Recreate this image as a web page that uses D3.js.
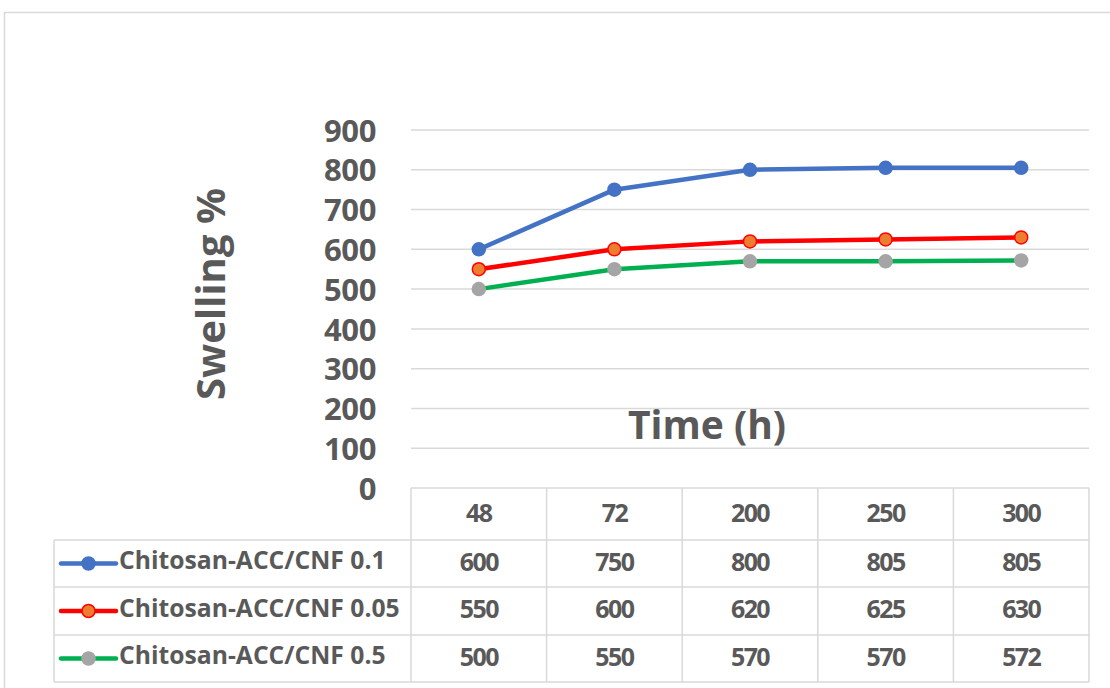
<!DOCTYPE html>
<html><head><meta charset="utf-8">
<script src="https://cdn.jsdelivr.net/npm/d3@7"></script>
<style>body{margin:0;background:#fff;}svg{display:block;}</style>
</head><body>
<svg id="c" width="1110" height="688"></svg>
<script>
const categories = ["48", "72", "200", "250", "300"];
const seriesNames = ["Chitosan-ACC/CNF 0.1", "Chitosan-ACC/CNF 0.05", "Chitosan-ACC/CNF 0.5"];
const s01 = [600, 750, 800, 805, 805];
const s005 = [550, 600, 620, 625, 630];
const s05 = [500, 550, 570, 570, 572];
const yTicks = [0, 100, 200, 300, 400, 500, 600, 700, 800, 900];
const lineColors = ["#4472C4", "#FF0000", "#00B050"];
const markerFill = ["#4472C4", "#ED7D31", "#A5A5A5"];
const markerStroke = ["#4472C4", "#FF0000", "#A5A5A5"];
const seriesVals = [s01, s005, s05];

(function(){
const svg = d3.select("#c");
const font = "'Open Sans', Lato, sans-serif";
const txt = "#595959";
const gridC = "#d9d9d9";

svg.append("rect").attr("x",4.5).attr("y",12.5).attr("width",1200).attr("height",800)
  .attr("fill","none").attr("stroke","#d9d9d9").attr("stroke-width",1.5);

const pL = 411, pR = 1089, pT = 130, pB = 488;
const x = d3.scaleBand().domain(categories).range([pL, pR]);
const y = d3.scaleLinear().domain([0, 900]).range([pB, pT]);

svg.append("g").selectAll("line").data(yTicks.filter(d=>d>0)).join("line")
  .attr("x1", pL).attr("x2", pR)
  .attr("y1", d=>y(d)).attr("y2", d=>y(d))
  .attr("stroke", gridC).attr("stroke-width", 1.5);

const yAxis = d3.axisLeft(y).tickValues(yTicks).tickSize(0).tickPadding(0);
const ga = svg.append("g").attr("transform", `translate(376,0)`).call(yAxis);
ga.select(".domain").remove();
ga.selectAll("text").attr("font-family", font).attr("font-weight", "bold")
  .attr("font-size", 31).attr("fill", txt).attr("dy", "0.36em").attr("letter-spacing", -0.4);

svg.append("text").attr("transform", "translate(225,294) rotate(-90)")
  .attr("text-anchor","middle").attr("font-family",font).attr("font-weight","bold")
  .attr("font-size",40).attr("fill",txt).text("Swelling %");
svg.append("text").attr("x",707).attr("y",439).attr("text-anchor","middle")
  .attr("font-family",font).attr("font-weight","bold").attr("font-size",39)
  .attr("fill",txt).text("Time (h)");

const line = d3.line().x((d,i)=>x(categories[i]) + x.bandwidth()/2).y(d=>y(d));
seriesVals.forEach((vals, k) => {
  svg.append("path").datum(vals).attr("d", line).attr("fill","none")
    .attr("stroke", lineColors[k]).attr("stroke-width", 4.5).attr("stroke-linejoin","round");
  svg.append("g").selectAll("circle").data(vals).join("circle")
    .attr("cx", (d,i)=>x(categories[i]) + x.bandwidth()/2).attr("cy", d=>y(d))
    .attr("r", 6.5).attr("fill", markerFill[k]).attr("stroke", markerStroke[k]).attr("stroke-width", 1.5);
});

const rowY = [488, 540, 587, 635, 682];
const tableLeft = 54;
const tg = svg.append("g");
tg.append("line").attr("x1",pL).attr("x2",pR).attr("y1",rowY[0]).attr("y2",rowY[0]).attr("stroke",gridC).attr("stroke-width",1.5);
for (let r=1;r<rowY.length;r++){
  tg.append("line").attr("x1",tableLeft).attr("x2",pR).attr("y1",rowY[r]).attr("y2",rowY[r]).attr("stroke",gridC).attr("stroke-width",1.5);
}
const colEdges = categories.map(c=>x(c)).concat([pR]);
colEdges.forEach(cx=>{
  tg.append("line").attr("x1",cx).attr("x2",cx).attr("y1",rowY[0]).attr("y2",rowY[4]).attr("stroke",gridC).attr("stroke-width",1.5);
});
tg.append("line").attr("x1",tableLeft).attr("x2",tableLeft).attr("y1",rowY[1]).attr("y2",rowY[4]).attr("stroke",gridC).attr("stroke-width",1.5);

const numSize = 25, numLS = -1.6;
tg.selectAll("text.h").data(categories).join("text").attr("class","h")
  .attr("x", d=>x(d)+x.bandwidth()/2).attr("y", (rowY[0]+rowY[1])/2 - 1.5)
  .attr("dy","0.36em").attr("text-anchor","middle").attr("font-family",font)
  .attr("font-weight","bold").attr("font-size",numSize).attr("letter-spacing",numLS).attr("fill",txt).text(d=>d);

seriesVals.forEach((vals,k)=>{
  const cy = (rowY[k+1]+rowY[k+2])/2;
  tg.append("g").selectAll("text").data(vals).join("text")
    .attr("x",(d,i)=>x(categories[i])+x.bandwidth()/2).attr("y",cy - 2)
    .attr("dy","0.36em").attr("text-anchor","middle").attr("font-family",font)
    .attr("font-weight","bold").attr("font-size",numSize).attr("letter-spacing",numLS).attr("fill",txt).text(d=>d);
  tg.append("line").attr("x1",61).attr("x2",116).attr("y1",cy).attr("y2",cy)
    .attr("stroke",lineColors[k]).attr("stroke-width",4.5).attr("stroke-linecap","round");
  tg.append("circle").attr("cx",88.5).attr("cy",cy).attr("r",6.5)
    .attr("fill",markerFill[k]).attr("stroke",markerStroke[k]).attr("stroke-width",1.5);
  tg.append("text").attr("x",119).attr("y",cy - 3).attr("dy","0.36em")
    .attr("font-family",font).attr("font-weight","bold").attr("font-size",24.7)
    .attr("fill",txt).text(seriesNames[k]);
});
})();
</script>
</body></html>
